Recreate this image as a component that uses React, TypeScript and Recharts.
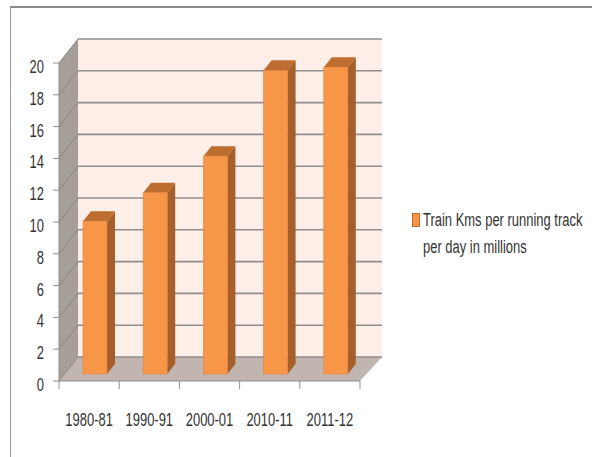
import React from "react";
import { Bar, BarChart, CartesianGrid, Legend, XAxis, YAxis } from "recharts";

const years = ["1980-81", "1990-91", "2000-01", "2010-11", "2011-12"];
const trainKms = [9.6, 11.4, 13.7, 19.1, 19.3];
const yTicks = [0, 2, 4, 6, 8, 10, 12, 14, 16, 18, 20];
const seriesName = "Train Kms per running track per day in millions";

const data = years.map((year, i) => ({ year, value: trainKms[i] }));

// layout of the fake 3D box
const W = 592;
const H = 457;
const LEFT = 59;
const RIGHT = 360;
const TOP = 63;
const BOTTOM = 381;
const DX = 19;
const DX_R = 22;
const DY = 24;
const FONT = "'Liberation Sans', Arial, sans-serif";
const NARROW = 0.72; // squeeze text to look like the condensed original
const TEXT = "#333333";
const GRID = "#8e8e8e";

const FRONT = "#f79646";
const SIDE = "#a65f2a";
const TOPFACE = "#bd6d2f";

function Bar3D(props: any) {
  const { x, y, width, height } = props;
  if (height <= 0) return null;
  const fx = x + 6;
  const fy = y - 7;
  const d = 8;
  const e = 10;
  return (
    <g>
      <polygon
        points={`${fx + width},${fy} ${fx + width + d},${fy - e} ${fx + width + d},${fy + height - e} ${fx + width},${fy + height}`}
        fill={SIDE}
      />
      <polygon
        points={`${fx},${fy} ${fx + d},${fy - e} ${fx + width + d},${fy - e} ${fx + width},${fy}`}
        fill={TOPFACE}
      />
      <rect x={fx} y={fy} width={width} height={height} fill={FRONT} stroke="#e5823a" strokeWidth={0.6} />
    </g>
  );
}

function gridLine(p: any) {
  const { x1, x2, y1, key } = p;
  return (
    <g key={key}>
      <line x1={x1} y1={y1} x2={x1 + DX} y2={y1 - DY} stroke="#8a837e" strokeWidth={1} />
      <line x1={x1 + DX} y1={y1 - DY} x2={x2 + DX_R} y2={y1 - DY} stroke={GRID} strokeWidth={1.6} />
    </g>
  );
}

function YearTick(props: any) {
  const { x, y, payload, index } = props;
  const half = (RIGHT - LEFT) / years.length / 2;
  return (
    <g>
      <line x1={x - half} y1={y} x2={x - half} y2={y + 8} stroke={GRID} />
      {index === years.length - 1 && (
        <line x1={x + half} y1={y} x2={x + half} y2={y + 8} stroke={GRID} />
      )}
      <text
        transform={`translate(${x},${y + 45}) scale(${NARROW},1)`}
        textAnchor="middle"
        fill={TEXT}
        fontSize={18}
        fontFamily={FONT}
      >
        {payload.value}
      </text>
    </g>
  );
}

function ValueTick(props: any) {
  const { x, y, payload } = props;
  return (
    <text
      transform={`translate(${x},${y + 10}) scale(${NARROW},1)`}
      textAnchor="end"
      fill={TEXT}
      fontSize={18}
      fontFamily={FONT}
    >
      {payload.value}
    </text>
  );
}

function LegendBox() {
  return (
    <div style={{ position: "relative", fontFamily: FONT, fontSize: 18, color: TEXT, height: 60 }}>
      <div
        style={{
          position: "absolute",
          left: 0,
          top: 6,
          width: 6,
          height: 12,
          background: FRONT,
          border: "1px solid #c8682a",
        }}
      />
      <div
        style={{
          position: "absolute",
          left: 11,
          top: 0,
          lineHeight: "27px",
          whiteSpace: "nowrap",
          transform: `scaleX(${NARROW})`,
          transformOrigin: "left top",
        }}
      >
        Train Kms per running track
        <br />
        per day in millions
      </div>
    </div>
  );
}

export default function App() {
  const wall = `${LEFT + DX},${TOP - DY} ${RIGHT + DX_R},${TOP - DY} ${RIGHT + DX_R},${BOTTOM - DY} ${LEFT + DX},${BOTTOM - DY}`;
  const side = `${LEFT},${TOP} ${LEFT + DX},${TOP - DY} ${LEFT + DX},${BOTTOM - DY} ${LEFT},${BOTTOM}`;
  const floor = `${LEFT},${BOTTOM} ${LEFT + DX},${BOTTOM - DY} ${RIGHT + DX_R},${BOTTOM - DY} ${RIGHT},${BOTTOM}`;

  return (
    <div style={{ position: "absolute", left: 0, top: 0, width: W, height: H, background: "#fff", overflow: "hidden" }}>
      <div
        style={{
          position: "absolute",
          left: 10,
          top: 6,
          width: W,
          height: H,
          borderTop: "2px solid #8a8a8a",
          borderLeft: "1px solid #9a9a9a",
        }}
      />
      <svg width={W} height={H} style={{ position: "absolute", left: 0, top: 0 }}>
        <polygon points={wall} fill="#fdeee7" />
        <polygon points={side} fill="#a59e99" />
        <polygon points={floor} fill="#c1b5b0" />
      </svg>
      <div style={{ position: "absolute", left: 0, top: 0 }}>
        <BarChart
          width={W}
          height={H}
          data={data}
          margin={{ top: TOP, right: W - RIGHT, bottom: 36, left: 0 }}
        >
          <CartesianGrid vertical={false} horizontal={gridLine} />
          <XAxis
            dataKey="year"
            height={H - BOTTOM - 36}
            tickLine={false}
            tickSize={0}
            tickMargin={0}
            axisLine={{ stroke: GRID }}
            tick={YearTick}
            interval={0}
          />
          <YAxis
            width={LEFT}
            domain={[0, 20]}
            ticks={yTicks}
            tickSize={6}
            tickMargin={9}
            axisLine={{ stroke: GRID }}
            tickLine={{ stroke: GRID }}
            tick={ValueTick}
          />
          <Legend
            layout="horizontal"
            align="center"
            verticalAlign="middle"
            content={<LegendBox />}
            wrapperStyle={{ left: 412, top: 207, width: 178 }}
          />
          <Bar dataKey="value" name={seriesName} barSize={24} shape={Bar3D} isAnimationActive={false} />
        </BarChart>
      </div>
    </div>
  );
}
